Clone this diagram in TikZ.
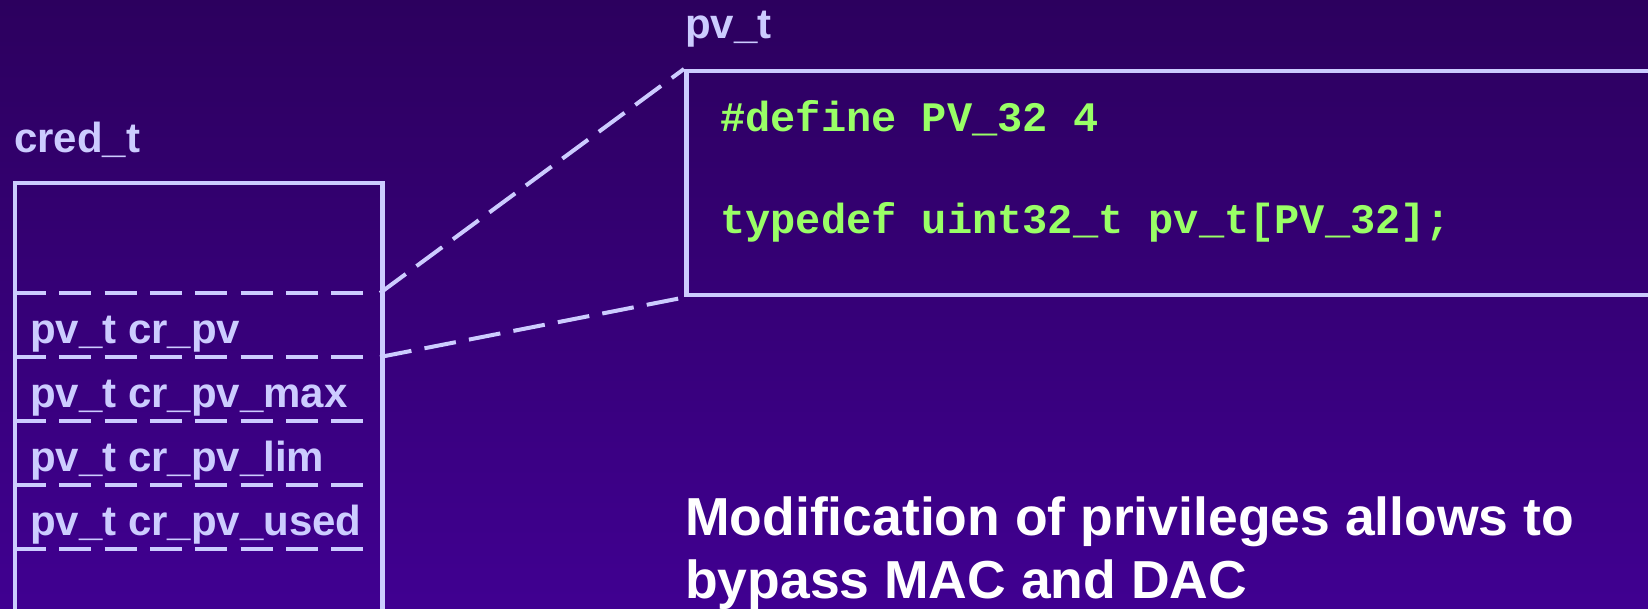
\documentclass[tikz,border=0pt]{standalone}
\usepackage{fontspec}
\setmainfont{Liberation Sans}
\newfontfamily\codefont{Liberation Mono}
\definecolor{lav}{RGB}{204,204,255}
\definecolor{codegreen}{RGB}{153,255,102}
\definecolor{bgtop}{RGB}{44,0,94}
\definecolor{bgbot}{RGB}{64,0,145}
\tikzset{
  boxframe/.style={draw=lav, line width=4.5pt, inner sep=0pt, fill=none},
  sepline/.style={draw=lav, line width=4pt, dash pattern=on 32pt off 13.3pt},
  conn/.style={draw=lav, line width=4pt, dash pattern=on 32pt off 13.3pt},
  lbl/.style={text=lav, font=\bfseries\fontsize{42}{50}\selectfont, inner sep=0pt, anchor=base west},
  field/.style={text=lav, font=\bfseries\fontsize{42}{50}\selectfont, inner sep=0pt, anchor=base west},
  code/.style={text=codegreen, font=\codefont\bfseries\fontsize{42}{50}\selectfont, inner sep=0pt, anchor=base west},
  note/.style={text=white, font=\bfseries\fontsize{53.5}{63}\selectfont, inner sep=0pt, anchor=base west}
}
\begin{document}
\begin{tikzpicture}[x=1pt,y=-1pt]
\useasboundingbox (0,0) rectangle (1648,609);
\clip (0,0) rectangle (1648,609);
\shade[top color=bgtop, bottom color=bgbot] (0,0) rectangle (1648,609);

% cred_t structure
\node[lbl] (credlbl) at (14,153) {cred\_t};
\node[boxframe, anchor=north west, minimum width=367.5pt, minimum height=500pt] (cred) at (12.5,181) {};
\foreach \y/\n in {293/1,357/2,421/3,485/4,549/5}{
  \coordinate (sl\n) at (14,\y);
  \coordinate (sr\n) at (365,\y);
  \draw[sepline] (sl\n) -- (sr\n);
}
\node[field] (f1) at (30,343) {pv\_t cr\_pv};
\node[field] (f2) at (30,407) {pv\_t cr\_pv\_max};
\node[field] (f3) at (30,471) {pv\_t cr\_pv\_lim};
\node[field] (f4) at (30,535) {pv\_t cr\_pv\_used};

% pv_t definition box
\node[lbl] (pvlbl) at (685,39) {pv\_t};
\node[boxframe, anchor=north west, minimum width=1100pt, minimum height=224pt] (code) at (684,69) {};
\node[code] (c1) at (720,132) {\#define PV\_32 4};
\node[code] (c2) at (720,234) {typedef uint32\_t pv\_t[PV\_32];};

% connectors
\coordinate (e1) at (380,293);
\coordinate (e2) at (380,357);
\draw[conn] (e1) -- (code.north west);
\draw[conn] (e2) -- (code.south west);

% note
\node[note] (n1) at (685,535) {Modification of privileges allows to};
\node[note] (n2) at (685,598) {bypass MAC and DAC};
\end{tikzpicture}
\end{document}
